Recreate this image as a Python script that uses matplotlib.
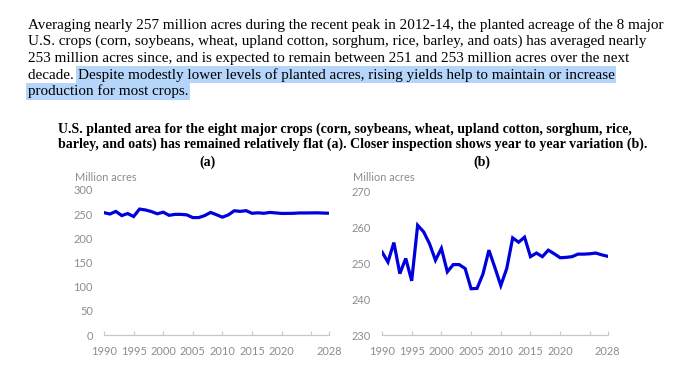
import matplotlib
matplotlib.use("Agg")
import matplotlib.pyplot as plt

years = list(range(1990, 2029))
acres = [253.1, 250.3, 255.7, 247.1, 251.3, 245.1, 260.5, 258.7, 255.4, 250.8,
         254.1, 247.6, 249.6, 249.6, 248.5, 242.9, 243.0, 247.0, 253.6, 248.8,
         243.8, 248.5, 257.0, 255.8, 257.2, 251.8, 252.8, 251.8, 253.6, 252.6,
         251.5, 251.6, 251.8, 252.5, 252.5, 252.6, 252.8, 252.3, 251.9]

xtick_pos = [1990, 1995, 2000, 2005, 2010, 2015, 2020, 2025, 2028]
xtick_lab = ["1990", "1995", "2000", "2005", "2010", "2015", "2020", "", "2028"]
yticks_a = [0, 50, 100, 150, 200, 250, 300]
yticks_b = [230, 240, 250, 260, 270]

para_lines = [
    "Averaging nearly 257 million acres during the recent peak in 2012-14, the planted acreage of the 8 major",
    "U.S. crops (corn, soybeans, wheat, upland cotton, sorghum, rice, barley, and oats) has averaged nearly",
    "253 million acres since, and is expected to remain between 251 and 253 million acres over the next",
]
para_l4a = "decade. "
para_l4b = "Despite modestly lower levels of planted acres, rising yields help to maintain or increase"
para_l5 = "production for most crops."
title_lines = [
    "U.S. planted area for the eight major crops (corn, soybeans, wheat, upland cotton, sorghum, rice,",
    "barley, and oats) has remained relatively flat (a). Closer inspection shows year to year variation (b).",
]

W, H = 680, 374
fig = plt.figure(figsize=(6.8, 3.74), dpi=100)
fig.patch.set_facecolor("white")

ov = fig.add_axes([0, 0, 1, 1])
ov.set_xlim(0, W)
ov.set_ylim(H, 0)
ov.axis("off")

serif = "Liberation Serif"
psize = 10.9
hl = "#b5d5fb"
x0 = 28
base0 = 28.5
step = 16.7
for i, line in enumerate(para_lines):
    ov.text(x0, base0 + i * step, line, family=serif, fontsize=psize, va="baseline", ha="left")
t4 = ov.text(x0, base0 + 3 * step, para_l4a, family=serif, fontsize=psize, va="baseline", ha="left")
ov.annotate(para_l4b, xy=(1, 0), xycoords=t4, va="bottom", ha="left",
            family=serif, fontsize=psize,
            bbox=dict(boxstyle="square,pad=0.12", fc=hl, ec="none"))
ov.text(x0, base0 + 4 * step, para_l5, family=serif, fontsize=psize, va="baseline", ha="left",
        bbox=dict(boxstyle="square,pad=0.12", fc=hl, ec="none"))

tsize = 10.0
ov.text(58, 133.3, title_lines[0], family=serif, fontsize=tsize, weight="bold", va="baseline", ha="left")
ov.text(58, 147.8, title_lines[1], family=serif, fontsize=tsize, weight="bold", va="baseline", ha="left")
ov.text(207, 165.5, "(a)", family=serif, fontsize=tsize, weight="bold", va="baseline", ha="center")
ov.text(482, 165.5, "(b)", family=serif, fontsize=tsize, weight="bold", va="baseline", ha="center")

sans = "Lato"
grey = "#8c8c8c"
line_color = "#0000dd"


def style(ax, yt, ylim):
    ax.plot(years, acres, color=line_color, lw=2.3, solid_joinstyle="miter")
    ax.set_xlim(1990, 2028)
    ax.set_ylim(*ylim)
    ax.set_yticks(yt)
    ax.set_yticklabels([str(v) for v in yt])
    ax.set_xticks(xtick_pos)
    ax.set_xticklabels(xtick_lab)
    for s in ["left", "right", "top"]:
        ax.spines[s].set_visible(False)
    ax.spines["bottom"].set_color("#c8c8c8")
    ax.spines["bottom"].set_linewidth(0.9)
    ax.tick_params(axis="x", direction="in", length=3, color="#c8c8c8", width=0.8,
                   labelsize=7.9, labelcolor=grey, pad=8)
    ax.tick_params(axis="y", length=0, labelsize=7.9, labelcolor=grey, pad=8)
    for lab in ax.get_xticklabels() + ax.get_yticklabels():
        lab.set_family(sans)
    ax.patch.set_alpha(0)


axa = fig.add_axes([104 / W, 1 - 335 / H, 225 / W, 145 / H])
style(axa, yticks_a, (0, 300))
axb = fig.add_axes([382 / W, 1 - 335.3 / H, 225.7 / W, 144.3 / H])
style(axb, yticks_b, (230, 270))

ov.text(75, 181, "Million acres", family=sans, fontsize=7.9, color=grey, va="baseline", ha="left")
ov.text(353, 181, "Million acres", family=sans, fontsize=7.9, color=grey, va="baseline", ha="left")

fig.savefig("out.png", dpi=100, facecolor="white")
